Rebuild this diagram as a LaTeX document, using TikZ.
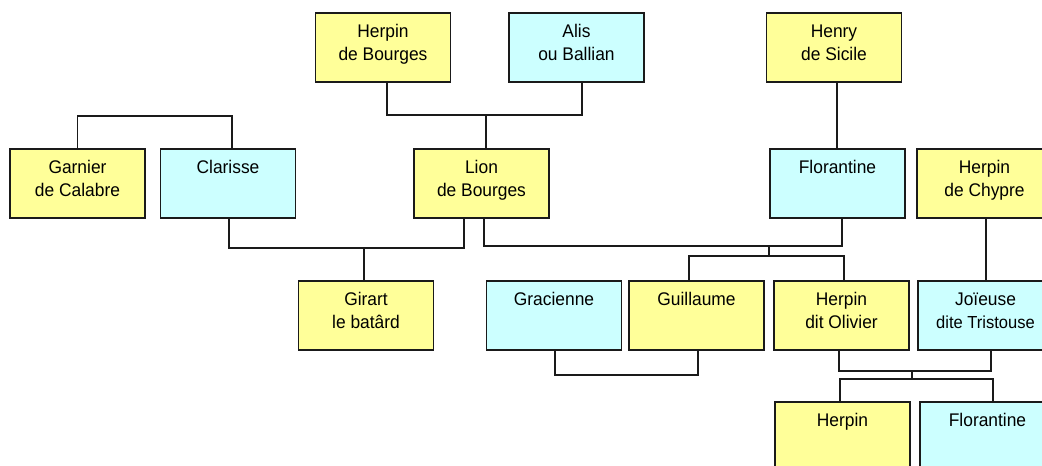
\documentclass[tikz,border=0pt]{standalone}
\usepackage{fontspec}
\setmainfont{Liberation Sans}[FakeStretch=0.95]
\definecolor{yel}{HTML}{FFFF99}
\definecolor{cya}{HTML}{CCFFFF}
\definecolor{ln}{HTML}{1A1A1A}
\newcommand{\bt}[1]{\parbox[c][69pt][t]{135pt}{\centering\fontsize{18.3}{22.5}\selectfont\rule{0pt}{24.5pt}#1\par}}
\begin{document}
\begin{tikzpicture}[x=1pt,y=-1pt,
  person/.style={draw=ln, line width=1.8pt, inner sep=0pt, outer sep=0pt, text=black},
  male/.style={person, fill=yel},
  female/.style={person, fill=cya},
  link/.style={draw=ln, line width=1.7pt}]
\useasboundingbox (0,0) rectangle (1042,466);
\clip (0,0) rectangle (1042,466);
% row 1
\node[male]   (hb)      at (383,47.5)   {\bt{Herpin\\de Bourges}};
\node[female] (alis)    at (576.5,47.5) {\bt{Alis\\ou Ballian}};
\node[male]   (henry)   at (834,47.5)   {\bt{Henry\\de Sicile}};
% row 2
\node[male]   (garnier) at (77.5,183.5) {\bt{Garnier\\de Calabre}};
\node[female] (clarisse)at (228,183.5)  {\bt{Clarisse}};
\node[male]   (lion)    at (481.5,183.5){\bt{Lion\\de Bourges}};
\node[female] (flor)    at (837.5,183.5){\bt{Florantine}};
\node[male]   (chypre)  at (984.5,183.5){\bt{Herpin\\de Chypre}};
% row 3
\node[male]   (girart)  at (366,315.5)  {\bt{Girart\\le batârd}};
\node[female] (grac)    at (554,315.5)  {\bt{Gracienne}};
\node[male]   (guil)    at (696.5,315.5){\bt{Guillaume}};
\node[male]   (olivier) at (841.5,315.5){\bt{Herpin\\dit Olivier}};
\node[female] (joie)    at (985.5,315.5){\bt{Joïeuse\\{\fontsize{17.4}{22.5}\selectfont dite Tristouse}}};
% row 4
\node[male]   (herpin)  at (842.5,436.5){\bt{Herpin}};
\node[female] (flor2)   at (987.5,436.5){\bt{Florantine}};
% connectors
\coordinate (b1) at (486,115);
\draw[link] ([xshift=4pt]hb.south) |- (b1) -| ([xshift=5.5pt]alis.south);
\draw[link] (b1) -- (b1 |- lion.north);
\coordinate (b2) at (77.5,116);
\draw[link] (garnier.north) -- (b2) -| ([xshift=4pt]clarisse.north);
\coordinate (b3) at (364,248);
\draw[link] ([xshift=1pt]clarisse.south) |- (b3) -| ([xshift=-17.5pt]lion.south);
\draw[link] (b3) -- (b3 |- girart.north);
\coordinate (b4) at (769,246);
\coordinate (c4) at (769,256);
\draw[link] ([xshift=2.5pt]lion.south) |- (b4) -| ([xshift=4.5pt]flor.south);
\draw[link] (b4) -- (c4);
\draw[link] ([xshift=-7.5pt]guil.north) |- (c4) -| ([xshift=2.5pt]olivier.north);
\draw[link] ([xshift=3pt]henry.south) -- ([xshift=-0.5pt]flor.north);
\draw[link] ([xshift=1.5pt]chypre.south) -- ([xshift=0.5pt]joie.north);
\draw[link] ([xshift=1pt]grac.south) -- ++(0,25) -| ([xshift=1.5pt]guil.south);
\coordinate (b5) at (912,371);
\coordinate (c5) at (912,379);
\draw[link] ([xshift=-2.5pt]olivier.south) |- (b5) -| ([xshift=5.5pt]joie.south);
\draw[link] (b5) -- (c5);
\draw[link] ([xshift=-2.5pt]herpin.north) |- (c5) -| ([xshift=5.5pt]flor2.north);
\end{tikzpicture}
\end{document}
